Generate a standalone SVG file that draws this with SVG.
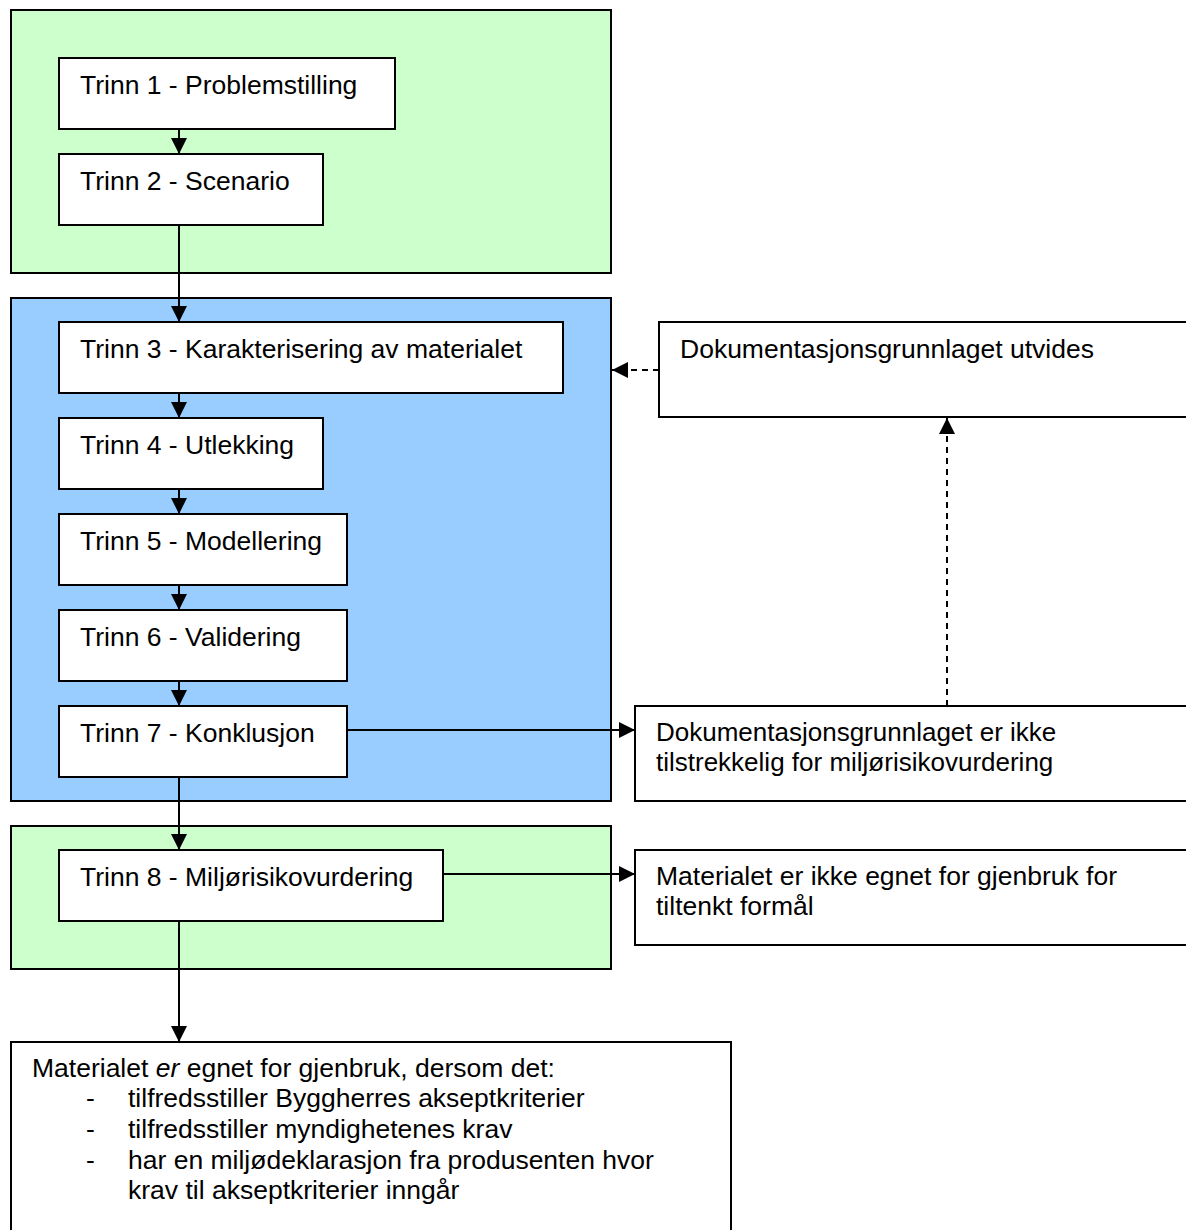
<svg xmlns="http://www.w3.org/2000/svg" width="1186" height="1230" viewBox="0 0 1186 1230">
<style>
.grp{stroke:#000;stroke-width:2}
.green{fill:#CCFFCC}
.blue{fill:#99CCFF}
.box{fill:#fff;stroke:#000;stroke-width:2}
text{font-family:"Liberation Sans",Arial,sans-serif;font-size:26.5px;fill:#000}
.c{stroke:#000;stroke-width:2;fill:none}
.d{stroke-dasharray:6,5}
</style>
<defs>
<marker id="ah2" viewBox="0 0 10 10" refX="10" refY="5" markerWidth="16" markerHeight="16" markerUnits="userSpaceOnUse" orient="auto">
<path d="M0,0 L10,5 L0,10 z" fill="#000"/>
</marker>
</defs>
<rect width="1186" height="1230" fill="#fff"/>
<g id="zone1"><rect class="grp green" x="11" y="10" width="600" height="263"/></g>
<g id="zone2"><rect class="grp blue" x="11" y="298" width="600" height="503"/></g>
<g id="zone3"><rect class="grp green" x="11" y="826" width="600" height="143"/></g>

<g id="connectors">
<line class="c" x1="179" y1="129" x2="179" y2="154" marker-end="url(#ah2)"/>
<line class="c" x1="179" y1="225" x2="179" y2="322" marker-end="url(#ah2)"/>
<line class="c" x1="179" y1="393" x2="179" y2="418" marker-end="url(#ah2)"/>
<line class="c" x1="179" y1="489" x2="179" y2="514" marker-end="url(#ah2)"/>
<line class="c" x1="179" y1="585" x2="179" y2="610" marker-end="url(#ah2)"/>
<line class="c" x1="179" y1="681" x2="179" y2="706" marker-end="url(#ah2)"/>
<line class="c" x1="179" y1="777" x2="179" y2="850" marker-end="url(#ah2)"/>
<line class="c" x1="179" y1="921" x2="179" y2="1042" marker-end="url(#ah2)"/>
<line class="c" x1="347" y1="730" x2="635" y2="730" marker-end="url(#ah2)"/>
<line class="c" x1="443" y1="874" x2="635" y2="874" marker-end="url(#ah2)"/>
<line class="c d" x1="947" y1="706" x2="947" y2="418" marker-end="url(#ah2)"/>
<line class="c d" x1="659" y1="370" x2="612" y2="370" marker-end="url(#ah2)"/>
</g>

<g id="n1"><rect class="box" x="59" y="58" width="336" height="71"/><text x="80" y="94">Trinn 1 - Problemstilling</text></g>
<g id="n2"><rect class="box" x="59" y="154" width="264" height="71"/><text x="80" y="190">Trinn 2 - Scenario</text></g>
<g id="n3"><rect class="box" x="59" y="322" width="504" height="71"/><text x="80" y="358">Trinn 3 - Karakterisering av materialet</text></g>
<g id="n4"><rect class="box" x="59" y="418" width="264" height="71"/><text x="80" y="454">Trinn 4 - Utlekking</text></g>
<g id="n5"><rect class="box" x="59" y="514" width="288" height="71"/><text x="80" y="550">Trinn 5 - Modellering</text></g>
<g id="n6"><rect class="box" x="59" y="610" width="288" height="71"/><text x="80" y="646">Trinn 6 - Validering</text></g>
<g id="n7"><rect class="box" x="59" y="706" width="288" height="71"/><text x="80" y="742">Trinn 7 - Konklusjon</text></g>
<g id="n8"><rect class="box" x="59" y="850" width="384" height="71"/><text x="80" y="886">Trinn 8 - Miljørisikovurdering</text></g>

<g id="rA"><rect class="box" x="659" y="322" width="540" height="95"/><text x="680" y="358">Dokumentasjonsgrunnlaget utvides</text></g>
<g id="rB"><rect class="box" x="635" y="706" width="564" height="95"/><text x="656" y="741" style="font-size:26px">Dokumentasjonsgrunnlaget er ikke</text><text x="656" y="771" style="font-size:26px">tilstrekkelig for miljørisikovurdering</text></g>
<g id="rC"><rect class="box" x="635" y="850" width="564" height="95"/><text x="656" y="885">Materialet er ikke egnet for gjenbruk for</text><text x="656" y="915">tiltenkt formål</text></g>

<g id="bottom"><rect class="box" x="11" y="1042" width="720" height="200"/>
<text x="32" y="1077">Materialet <tspan font-style="italic">er</tspan> egnet for gjenbruk, dersom det:</text>
<text x="86" y="1107">-</text><text x="128" y="1107">tilfredsstiller Byggherres akseptkriterier</text>
<text x="86" y="1138">-</text><text x="128" y="1138">tilfredsstiller myndighetenes krav</text>
<text x="86" y="1169">-</text><text x="128" y="1169">har en miljødeklarasjon fra produsenten hvor</text>
<text x="128" y="1199">krav til akseptkriterier inngår</text>
</g>
</svg>
